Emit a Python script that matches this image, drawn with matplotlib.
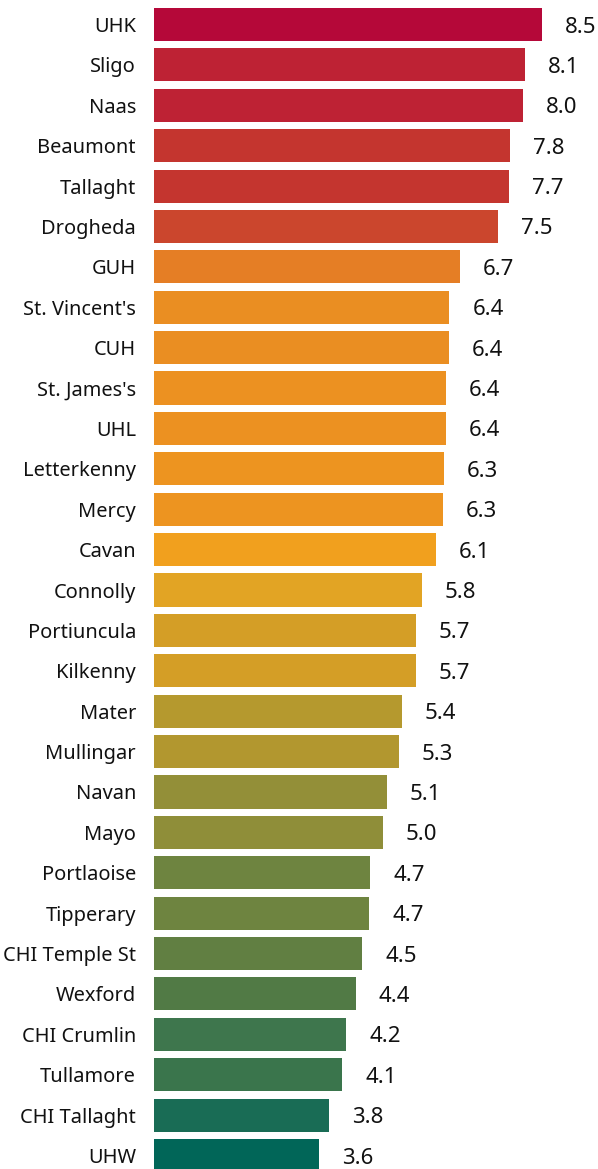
import matplotlib
matplotlib.use("Agg")
import matplotlib.pyplot as plt

plt.rcParams['font.family'] = ['Noto Sans', 'DejaVu Sans']

# Hospitales y valores (orden de arriba a abajo)
hospitales = ["UHK", "Sligo", "Naas", "Beaumont", "Tallaght", "Drogheda", "GUH",
              "St. Vincent's", "CUH", "St. James's", "UHL", "Letterkenny", "Mercy",
              "Cavan", "Connolly", "Portiuncula", "Kilkenny", "Mater", "Mullingar",
              "Navan", "Mayo", "Portlaoise", "Tipperary", "CHI Temple St", "Wexford",
              "CHI Crumlin", "Tullamore", "CHI Tallaght", "UHW"]
valores = [8.46, 8.09, 8.04, 7.76, 7.74, 7.50, 6.66,
           6.44, 6.42, 6.36, 6.36, 6.32, 6.30,
           6.14, 5.84, 5.71, 5.71, 5.40, 5.34,
           5.08, 4.99, 4.71, 4.69, 4.54, 4.40,
           4.19, 4.10, 3.81, 3.60]
colores = ["#B50839", "#BE2234", "#BE2234", "#C4352F", "#C4352F", "#CB462D", "#E57E25",
           "#EA8E22", "#EA8E22", "#EC9121", "#EC9121", "#ED9420", "#ED9420",
           "#F1A01E", "#E2A424", "#D49E26", "#D49E26", "#B5992E", "#B2972F",
           "#938F38", "#8F8E39", "#6E8440", "#6E8440", "#617F42", "#517A45",
           "#3E764D", "#3A754C", "#196C55", "#016658"]

fig = plt.figure(figsize=(5.98, 11.69), dpi=100)
ax = fig.add_axes([154 / 598, 0, 1 - 154 / 598, 1])

pos = list(range(len(hospitales)))
ax.barh(pos, valores, height=0.82, color=colores)

for p, v in zip(pos, valores):
    ax.annotate(f"{v:.1f}", xy=(v, p), xytext=(16.5, 0), textcoords='offset points',
                ha='left', va='center_baseline', fontsize=16, color='#111111')

ax.set_yticks(pos)
ax.set_yticklabels(hospitales, fontsize=14.4, color='#111111')
ax.tick_params(axis='y', length=0, pad=13)
ax.set_xticks([])
ax.set_xlim(0, 444 / 45.88)
ax.set_ylim(28.334, -0.607)
for s in ax.spines.values():
    s.set_visible(False)

fig.savefig("out.png", dpi=100)
